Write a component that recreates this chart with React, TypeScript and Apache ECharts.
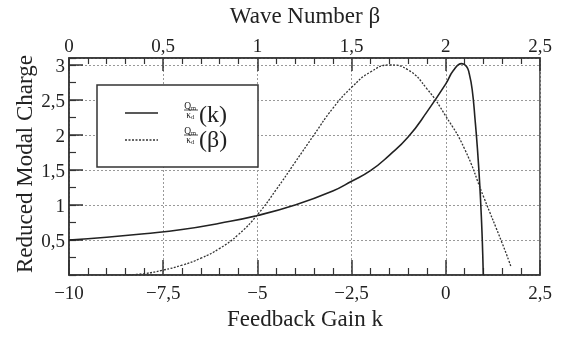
import React, { useEffect, useRef } from "react";
import * as echarts from "echarts";

// Q_m/κ_d as a function of feedback gain k (bottom axis)
const kValues = [-10, -9, -8, -7, -6, -5, -4, -3, -2.5, -2, -1.5, -1, -0.5, 0, 0.2, 0.42, 0.55, 0.62, 0.7, 0.78, 0.84, 0.9, 0.95, 0.98, 0.995];
const qOfK = [0.5, 0.54, 0.59, 0.65, 0.74, 0.85, 1.0, 1.2, 1.34, 1.49, 1.71, 1.97, 2.33, 2.73, 2.92, 3.02, 2.98, 2.88, 2.65, 2.2, 1.8, 1.3, 0.75, 0.3, 0.0];

// Q_m/κ_d as a function of wave number β (top axis)
const betaValues = [0.3, 0.4, 0.5, 0.6, 0.7, 0.8, 0.9, 1.0, 1.1, 1.2, 1.3, 1.4, 1.5, 1.6, 1.7, 1.8, 1.9, 2.0, 2.1, 2.2, 2.3, 2.346];
const qOfBeta = [0.0, 0.02, 0.07, 0.14, 0.24, 0.38, 0.58, 0.86, 1.22, 1.61, 2.0, 2.38, 2.68, 2.9, 3.0, 2.93, 2.66, 2.27, 1.8, 1.12, 0.45, 0.12];

const yTickValues = [0.5, 1, 1.5, 2, 2.5, 3];

const FONT = '"Liberation Serif", "Times New Roman", serif';
const INK = "#222";

const fmt = (v: number) => String(v).replace(".", ",").replace("-", "\u2212");

export default function App() {
  const ref = useRef<HTMLDivElement>(null);
  useEffect(() => {
    if (!ref.current) return;
    const chart = echarts.init(ref.current, null, { renderer: "svg" });
    const tickLine = { color: "#333", width: 1.5 };
    const label = { fontSize: 19, fontFamily: FONT, color: INK };
    const txt = (text: string, x: number, y: number, size: number, extra: any = {}) => ({
      type: "text",
      x,
      y,
      z: 20,
      ...extra,
      style: {
        text,
        font: `${size}px ${FONT}`,
        fill: INK,
        align: extra.align || "center",
        verticalAlign: "middle",
        textAlign: extra.align || "center",
        textVerticalAlign: "middle",
      },
    });
    const fraction = (cx: number, barY: number) => [
      txt("Q", cx - 2, barY - 4.5, 9.5, { align: "right" }),
      txt("m", cx - 2, barY - 3, 6.5, { align: "left" }),
      { type: "line", z: 20, shape: { x1: cx - 9, y1: barY, x2: cx + 5, y2: barY }, style: { stroke: INK, lineWidth: 0.8 } },
      txt("\u03BA", cx - 2, barY + 5, 9.5, { align: "right" }),
      txt("d", cx - 2, barY + 6.5, 6.5, { align: "left" }),
    ];
    chart.setOption({
      animation: false,
      grid: { left: 69, right: 24, top: 58, bottom: 63, show: true, borderColor: "#333", borderWidth: 1.5 },
      xAxis: [
        {
          type: "value",
          position: "bottom",
          min: -10,
          max: 2.5,
          interval: 2.5,
          axisLine: { show: true, onZero: false, lineStyle: tickLine },
          axisTick: { show: true, inside: true, length: 15, lineStyle: tickLine },
          minorTick: { show: true, splitNumber: 5, length: 7, lineStyle: { color: "#333", width: 1.2 } },
          axisLabel: { ...label, margin: 8, formatter: (v: number) => fmt(v) },
          splitLine: { show: true, lineStyle: { type: [2, 2], color: "#999", width: 1 } },
        },
        {
          type: "value",
          position: "top",
          min: 0,
          max: 2.5,
          interval: 0.5,
          axisLine: { show: true, onZero: false, lineStyle: tickLine },
          axisTick: { show: true, inside: true, length: 13, lineStyle: tickLine },
          minorTick: { show: true, splitNumber: 5, length: 6, lineStyle: { color: "#333", width: 1.2 } },
          axisLabel: { ...label, margin: 3, formatter: (v: number) => fmt(v) },
          splitLine: { show: false },
        },
      ],
      yAxis: [
        {
          type: "value",
          position: "left",
          min: 0,
          max: 3.1,
          interval: 0.5,
          axisLine: { show: true, onZero: false, lineStyle: tickLine },
          axisTick: { show: true, inside: true, length: 14, lineStyle: tickLine },
          axisLabel: {
            ...label,
            margin: 4,
            showMinLabel: false,
            showMaxLabel: false,
            formatter: (v: number) => (yTickValues.includes(v) ? fmt(v) : ""),
          },
          splitLine: { show: true, lineStyle: { type: [2, 2], color: "#999", width: 1 } },
        },
        {
          type: "value",
          position: "left",
          min: 0,
          max: 3.1,
          interval: 0.25,
          axisLine: { show: false, onZero: false },
          axisTick: { show: true, inside: true, length: 7, lineStyle: { color: "#333", width: 1.2 } },
          axisLabel: { show: false },
          splitLine: { show: false },
        },
      ],
      series: [
        {
          type: "line",
          xAxisIndex: 0,
          yAxisIndex: 0,
          data: kValues.map((k, i) => [k, qOfK[i]]),
          showSymbol: false,
          smooth: 0.5,
          lineStyle: { color: INK, width: 1.6 },
          z: 3,
        },
        {
          type: "line",
          xAxisIndex: 1,
          yAxisIndex: 0,
          data: betaValues.map((b, i) => [b, qOfBeta[i]]),
          showSymbol: false,
          smooth: 0.5,
          lineStyle: { color: "#333", width: 1.3, type: [2, 1.5] },
          z: 3,
        },
      ],
      graphic: [
        txt("Wave Number \u03B2", 305, 15, 23),
        txt("Feedback Gain k", 305, 318, 23),
        txt("Reduced Modal Charge", 24, 164, 23, { rotation: Math.PI / 2 }),
        {
          type: "rect",
          z: 10,
          shape: { x: 97, y: 85, width: 161, height: 82 },
          style: { fill: "#fff", stroke: "#333", lineWidth: 1.5 },
        },
        { type: "line", z: 20, shape: { x1: 125, y1: 113, x2: 158, y2: 113 }, style: { stroke: INK, lineWidth: 1.6 } },
        { type: "line", z: 20, shape: { x1: 125, y1: 140, x2: 158, y2: 140 }, style: { stroke: "#333", lineWidth: 1.3, lineDash: [2, 1.5] } },
        ...fraction(193, 110),
        txt("(k)", 199, 114, 24, { align: "left" }),
        ...fraction(193, 135),
        txt("(\u03B2)", 199, 139, 24, { align: "left" }),
      ],
    });
    return () => chart.dispose();
  }, []);
  return <div ref={ref} style={{ position: "fixed", left: 0, top: 0, width: 564, height: 338 }} />;
}
